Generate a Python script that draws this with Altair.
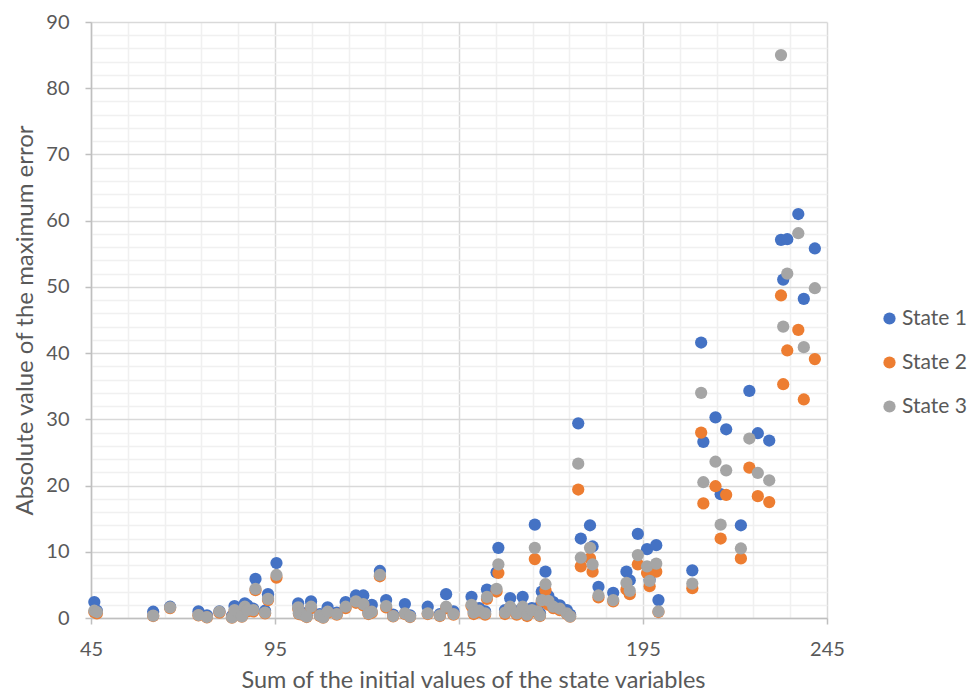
import altair as alt
import pandas as pd

series_names = ["State 1", "State 2", "State 3"]
series_colors = ["#4472C4", "#ED7D31", "#A5A5A5"]

sum_initial = [45.9, 46.6, 61.9, 66.5, 74.2, 76.5, 79.9, 83.3, 84.0, 86.0,
               86.8, 87.5, 89.1, 89.7, 92.3, 93.1, 95.4, 101.3, 101.5, 102.3,
               103.6, 104.8, 107.2, 108.1, 109.3, 111.8, 114.2, 117.0, 119.0, 120.4,
               121.3, 123.5, 125.2, 127.1, 130.3, 131.7, 136.5, 139.8, 141.5, 143.5,
               148.4, 149.0, 150.5, 152.1, 152.6, 155.2, 155.7, 157.5, 158.9, 160.7,
               162.3, 163.5, 164.8, 165.6, 166.3, 167.0, 167.5, 168.5, 169.3, 170.6,
               172.4, 174.3, 175.2, 177.4, 178.1, 180.6, 181.3, 182.9, 186.9, 190.5,
               191.4, 193.6, 196.1, 196.8, 198.6, 199.2, 208.4, 210.8, 211.4, 214.7,
               216.1, 217.6, 221.6, 223.9, 226.2, 229.3, 232.5, 233.1, 234.2, 237.2,
               238.7, 241.7]
state1 = [2.4, 1.1, 0.95, 1.7, 1.0, 0.4, 1.0, 0.3, 1.8, 0.6,
          2.2, 1.9, 1.4, 5.9, 1.1, 3.6, 8.3, 2.2, 0.9, 0.8,
          0.4, 2.5, 0.6, 0.3, 1.6, 0.8, 2.4, 3.4, 3.4, 0.9,
          2.0, 7.1, 2.7, 0.5, 2.1, 0.4, 1.7, 0.6, 3.6, 1.0,
          3.2, 1.0, 1.5, 1.0, 4.3, 6.9, 10.6, 1.2, 3.0, 1.0,
          3.2, 0.8, 1.5, 14.1, 1.5, 0.7, 4.0, 7.0, 3.3, 2.4,
          1.9, 1.2, 0.5, 29.4, 12.0, 14.0, 10.8, 4.7, 3.8, 7.0,
          5.7, 12.7, 10.4, 5.8, 11.0, 2.7, 7.2, 41.6, 26.6, 30.3,
          18.7, 28.5, 14.0, 34.3, 27.9, 26.8, 57.1, 51.1, 57.2, 61.0,
          48.2, 55.8]
state2 = [0.9, 0.7, 0.3, 1.5, 0.4, 0.1, 0.8, 0.05, 1.0, 0.2,
          1.5, 1.0, 1.0, 4.2, 0.7, 2.7, 6.1, 1.4, 0.6, 0.5,
          0.15, 1.5, 0.3, 0.05, 0.8, 0.5, 1.5, 2.3, 1.9, 0.6,
          0.8, 6.3, 1.6, 0.25, 0.6, 0.15, 0.6, 0.3, 1.5, 0.5,
          1.8, 0.6, 0.9, 0.5, 2.9, 4.0, 6.8, 0.6, 1.5, 0.5,
          1.5, 0.3, 1.0, 8.9, 0.8, 0.3, 2.5, 4.2, 2.0, 1.5,
          1.2, 0.6, 0.2, 19.4, 7.8, 9.0, 7.0, 3.1, 2.5, 4.3,
          3.6, 8.1, 6.8, 4.8, 7.0, 0.9, 4.5, 28.0, 17.3, 19.9,
          12.0, 18.6, 9.0, 22.7, 18.4, 17.5, 48.7, 35.3, 40.4, 43.5,
          33.0, 39.1]
state3 = [1.1, 0.9, 0.35, 1.6, 0.45, 0.15, 0.95, 0.1, 1.2, 0.25,
          1.7, 1.2, 1.2, 4.4, 0.8, 2.9, 6.5, 1.6, 0.7, 0.6,
          0.2, 1.7, 0.4, 0.1, 0.95, 0.6, 1.7, 2.5, 2.1, 0.7,
          0.95, 6.5, 1.8, 0.3, 0.7, 0.2, 0.7, 0.4, 1.7, 0.6,
          2.0, 0.8, 1.1, 0.7, 3.2, 4.4, 8.1, 0.8, 1.7, 0.7,
          1.7, 0.5, 1.2, 10.6, 1.0, 0.4, 2.7, 5.1, 2.6, 1.7,
          1.4, 0.7, 0.25, 23.3, 9.1, 10.6, 8.1, 3.4, 2.7, 5.3,
          4.1, 9.5, 7.8, 5.6, 8.2, 1.0, 5.2, 34.0, 20.5, 23.6,
          14.1, 22.3, 10.5, 27.1, 21.9, 20.8, 85.0, 44.0, 52.0, 58.1,
          40.9, 49.8]

x_major = [45, 95, 145, 195, 245]
x_minor = [55, 65, 75, 85, 105, 115, 125, 135, 155, 165, 175, 185, 205, 215, 225, 235]
y_major = [0, 10, 20, 30, 40, 50, 60, 70, 80, 90]
y_minor = [2, 4, 6, 8, 12, 14, 16, 18, 22, 24, 26, 28, 32, 34, 36, 38, 42, 44, 46, 48,
           52, 54, 56, 58, 62, 64, 66, 68, 72, 74, 76, 78, 82, 84, 86, 88]

rows = []
for k, (name, vals) in enumerate(zip(series_names, [state1, state2, state3])):
    for xv, yv in zip(sum_initial, vals):
        rows.append({"sum": xv, "err": yv, "series": name, "k": k})
df = pd.DataFrame(rows)

FONT = "Lato"
TXT = "#595959"
xs = alt.Scale(domain=[45, 245], nice=False, zero=False)
ys = alt.Scale(domain=[0, 90], nice=False, zero=True)

minor = alt.Chart(df).mark_circle(opacity=0).encode(
    x=alt.X("sum:Q", scale=xs, title=None,
            axis=alt.Axis(orient="bottom", values=x_minor, grid=True, gridColor="#F0F0F0",
                          gridWidth=1.5, labels=False, ticks=False, domain=False)),
    y=alt.Y("err:Q", scale=ys, title=None,
            axis=alt.Axis(orient="left", values=y_minor, grid=True, gridColor="#F0F0F0",
                          gridWidth=1.5, labels=False, ticks=False, domain=False)),
)

axis_common = dict(grid=True, gridColor="#D9D9D9", gridWidth=1.5,
                   domainColor="#BFBFBF", domainWidth=1.5,
                   tickColor="#BFBFBF", tickWidth=1.5, tickSize=6,
                   labelFontSize=20, labelColor=TXT, labelFont=FONT,
                   titleFont=FONT, titleFontWeight="normal",
                   titleColor=TXT)

points = alt.Chart(df).mark_circle(size=150, opacity=1).encode(
    x=alt.X("sum:Q", scale=xs, title="Sum of the initial values of the state variables",
            axis=alt.Axis(orient="bottom", values=x_major, labelPadding=15,
                          labelFlush=False, titlePadding=9, titleFontSize=23.5,
                          titleX=382, titleAlign="center", **axis_common)),
    y=alt.Y("err:Q", scale=ys, title="Absolute value of the maximum error",
            axis=alt.Axis(orient="left", values=y_major, labelPadding=16,
                          titlePadding=8, titleFontSize=24, **axis_common)),
    color=alt.Color("series:N",
                    scale=alt.Scale(domain=series_names, range=series_colors),
                    legend=alt.Legend(title=None, orient="none", legendX=788, legendY=286,
                                      labelFontSize=21, labelFont=FONT, labelColor=TXT,
                                      symbolType="circle", symbolSize=150,
                                      symbolStrokeWidth=0, rowPadding=22,
                                      labelOffset=2, padding=0)),
    order=alt.Order("k:Q"),
)

chart = alt.layer(minor, points).resolve_axis(
    x="independent", y="independent"
).properties(
    width=736, height=596,
    autosize=alt.AutoSizeParams(type="none"),
    padding={"left": 83, "top": 14, "right": 140, "bottom": 74},
).configure_view(stroke=None)

chart.save("out.html", embed_options={"renderer": "svg", "actions": False})
